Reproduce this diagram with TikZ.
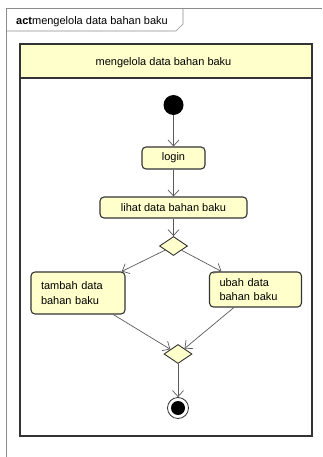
\documentclass[tikz,border=0pt]{standalone}
\usepackage{fontspec}
\setmainfont{Liberation Sans}
\usetikzlibrary{shapes.geometric,arrows.meta}
\definecolor{actfill}{HTML}{FFFFCC}
\definecolor{actline}{HTML}{333333}
\definecolor{flowline}{HTML}{5A5A5A}
\definecolor{framegray}{HTML}{8C8C8C}
\begin{document}
\begin{tikzpicture}[x=1pt,y=-1pt,
    font=\fontsize{11}{14.5}\selectfont,
    action/.style={draw=actline, fill=actfill, line width=1.1pt, rounded corners=4pt, inner sep=0pt},
    actiontext/.style={action, align=left, inner xsep=10pt, text width=#1},
    decision/.style={diamond, draw=actline, fill=actfill, line width=0.9pt, inner sep=0pt, minimum width=28pt, minimum height=19pt},
    flow/.style={draw=flowline, line width=0.7pt, -{Straight Barb[length=6pt,width=11pt]}}]
  \useasboundingbox (0,0) rectangle (322,457);
  \draw [framegray, line width=0.6pt] (6,457) -- (6,8) -- (322,8);
  \draw [framegray, line width=0.6pt] (6,31) -- (176,31) -- (183,24) -- (183,8);
  \node [anchor=base west, inner sep=0pt] (title) at (16,25) {\textbf{act}mengelola data bahan baku};
  \fill [actfill] (20,44) rectangle (312,78);
  \draw [actline, line width=1.2pt] (20,44) rectangle (312,436);
  \draw [actline, line width=1.2pt] (20,78) -- (312,78);
  \node [anchor=base, inner sep=0pt] (lane) at (163.5,66) {mengelola data bahan baku};
  \node [circle, fill=black, minimum size=20pt, inner sep=0pt] (start) at (173.5,105) {};
  \node [action, minimum width=63pt, minimum height=22pt] (login) at (173.5,158) {login};
  \node [action, minimum width=147pt, minimum height=21pt] (lihat) at (173.5,207.5) {lihat data bahan baku};
  \node [decision] (pilih) at (173.5,246) {};
  \node [actiontext=74pt, minimum height=42pt] (tambah) at (78,293) {tambah data\\bahan baku};
  \node [actiontext=72pt, minimum height=35pt] (ubah) at (255.5,289.5) {ubah data\\bahan baku};
  \node [decision] (gabung) at (178,354) {};
  \node [circle, draw=actline, fill=white, line width=0.8pt, minimum size=21pt, inner sep=0pt,
         path picture={\fill [black] (path picture bounding box.center) circle (7pt);}] (selesai) at (178,408) {};
  \draw [flow] (start) -- (login);
  \draw [flow] (login) -- (lihat);
  \draw [flow] (lihat) -- (pilih);
  \draw [flow] (pilih) -- (tambah);
  \draw [flow] (pilih) -- (ubah);
  \draw [flow] (tambah) -- (gabung);
  \draw [flow] (ubah) -- (gabung);
  \draw [flow] (gabung) -- (selesai);
\end{tikzpicture}
\end{document}
